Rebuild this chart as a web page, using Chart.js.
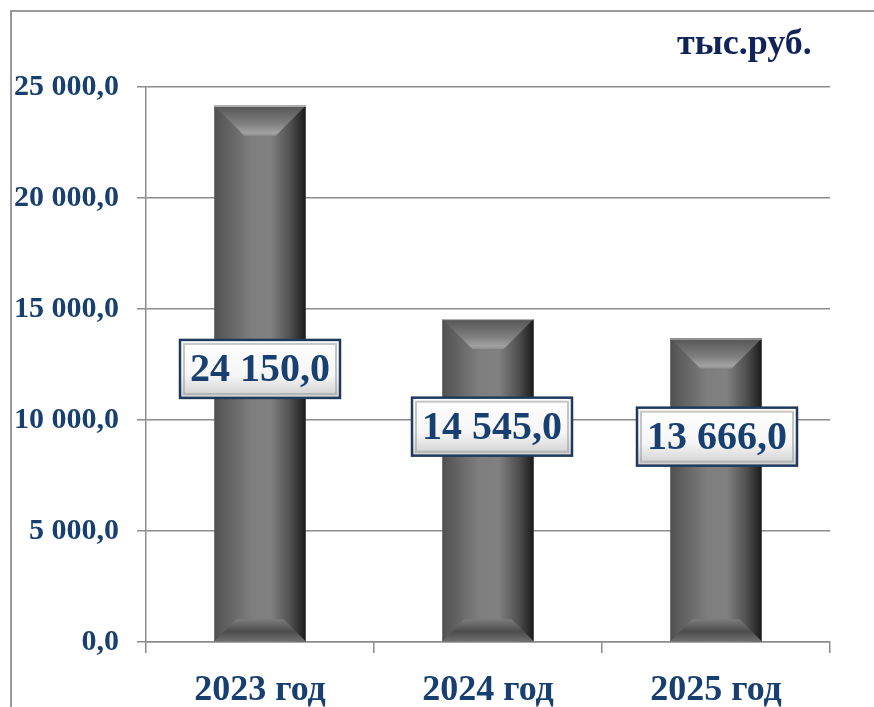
<!DOCTYPE html>
<html>
<head>
<meta charset="utf-8">
<script src="https://cdn.jsdelivr.net/npm/chart.js@4.4.1/dist/chart.umd.min.js"></script>
<style>
  html, body { margin: 0; padding: 0; background: #fff; }
  #wrap { position: relative; width: 874px; height: 707px; overflow: hidden; }
</style>
</head>
<body>
<div id="wrap"><canvas id="chart" width="874" height="707"></canvas></div>
<script>
const years = ['2023 год', '2024 год', '2025 год'];
const amounts = [24150.0, 14545.0, 13666.0];
const yTicks = [0, 5000, 10000, 15000, 20000, 25000];
const unitLabel = 'тыс.руб.';

// формат "24 150,0"
function fmt(v) {
    const parts = v.toFixed(1).split('.');
    return parts[0].replace(/\B(?=(\d{3})+(?!\d))/g, ' ') + ',' + parts[1];
}

const framePlugin = {
    id: 'frame',
    beforeDraw(chart) {
        const c = chart.ctx;
        c.save();
        c.strokeStyle = '#9a9a9a';
        c.lineWidth = 2;
        c.strokeRect(11, 11, 900, 800);
        c.restore();
    }
};

// объёмные столбики: градиент + фаски сверху и снизу
const bevelPlugin = {
    id: 'bevel',
    afterDatasetsDraw(chart) {
        const c = chart.ctx;
        chart.getDatasetMeta(0).data.forEach(bar => {
            const x0 = bar.x - bar.width / 2, x1 = bar.x + bar.width / 2;
            const top = bar.y, bot = bar.base;
            const dt = 30, db = 22;
            c.save();
            let g = c.createLinearGradient(x0, 0, x1, 0);
            g.addColorStop(0, '#505050');
            g.addColorStop(0.1, '#5c5c5c');
            g.addColorStop(0.4, '#7e7e7e');
            g.addColorStop(0.62, '#808080');
            g.addColorStop(0.84, '#4e4e4e');
            g.addColorStop(1, '#1a1a1a');
            c.fillStyle = g;
            c.fillRect(x0, top, x1 - x0, bot - top);

            // верхняя фаска
            g = c.createLinearGradient(0, top, 0, top + dt);
            g.addColorStop(0, '#555555');
            g.addColorStop(0.6, '#7f7f7f');
            g.addColorStop(0.9, '#a2a2a2');
            g.addColorStop(1, '#8e8e8e');
            c.beginPath();
            c.moveTo(x0, top); c.lineTo(x1, top);
            c.lineTo(x1 - dt, top + dt); c.lineTo(x0 + dt, top + dt);
            c.closePath();
            c.fillStyle = g;
            c.fill();

            // нижняя фаска
            g = c.createLinearGradient(0, bot - db, 0, bot);
            g.addColorStop(0, '#7c7c7c');
            g.addColorStop(0.55, '#4c4c4c');
            g.addColorStop(1, '#6e6e6e');
            c.beginPath();
            c.moveTo(x0, bot); c.lineTo(x1, bot);
            c.lineTo(x1 - db, bot - db); c.lineTo(x0 + db, bot - db);
            c.closePath();
            c.fillStyle = g;
            c.fill();

            c.strokeStyle = '#bdbdbd';
            c.lineWidth = 1;
            c.beginPath();
            c.moveTo(x0, top + 0.5); c.lineTo(x1, top + 0.5);
            c.stroke();
            c.restore();
        });
    }
};

const labelPlugin = {
    id: 'boxLabels',
    afterDatasetsDraw(chart, args, opts) {
        const c = chart.ctx;
        const ys = chart.scales.y;
        c.save();
        c.font = 'bold 40px "Liberation Serif", "Times New Roman", serif';
        c.textAlign = 'center';
        c.textBaseline = 'middle';
        chart.getDatasetMeta(0).data.forEach((bar, i) => {
            const text = fmt(amounts[i]);
            const tw = c.measureText(text).width;
            const w = tw + 20, h = 58;
            const cx = bar.x + opts.dx[i];
            const cy = ys.getPixelForValue(opts.at[i]);
            const x = cx - w / 2, y = cy - h / 2;
            const g = c.createLinearGradient(0, y, 0, y + h);
            g.addColorStop(0, '#ffffff');
            g.addColorStop(0.6, '#f6f6f6');
            g.addColorStop(1, '#cfcfcf');
            c.fillStyle = g;
            c.fillRect(x, y, w, h);
            // внутренняя тень
            c.strokeStyle = 'rgba(160,160,160,0.6)';
            c.lineWidth = 2;
            c.strokeRect(x + 4, y + 4, w - 8, h - 8);
            c.strokeStyle = '#203a5e';
            c.lineWidth = 2.5;
            c.strokeRect(x, y, w, h);
            c.fillStyle = '#173f6f';
            c.fillText(text, cx, cy + 2);
        });
        // единица измерения
        c.font = 'bold 36px "Liberation Serif", "Times New Roman", serif';
        c.fillStyle = '#10245a';
        c.textAlign = 'left';
        c.textBaseline = 'alphabetic';
        c.fillText(unitLabel, 677, 54);
        c.restore();
    }
};

new Chart(document.getElementById('chart'), {
    type: 'bar',
    data: {
        labels: years,
        datasets: [{
            data: amounts,
            backgroundColor: '#6e6e6e',
            borderWidth: 0,
            barPercentage: 0.4,
            categoryPercentage: 1.0
        }]
    },
    options: {
        responsive: false,
        animation: false,
        layout: { padding: { top: 87, right: 44, left: 0, bottom: 0 } },
        plugins: {
            legend: { display: false },
            tooltip: { enabled: false },
            boxLabels: { at: [12300, 9700, 9250], dx: [0, 4, 1] }
        },
        scales: {
            x: {
                offset: true,
                grid: {
                    offset: true,
                    drawOnChartArea: false,
                    drawTicks: true,
                    tickLength: 11,
                    color: '#8c8c8c',
                    lineWidth: 1.5
                },
                border: { display: true, color: '#8c8c8c', width: 1.5 },
                ticks: {
                    color: '#173f6f',
                    padding: 16,
                    font: { family: '"Liberation Serif", "Times New Roman", serif', size: 36, weight: 'bold' }
                },
                afterFit: s => { s.height = 65; }
            },
            y: {
                min: 0,
                max: 25000,
                afterBuildTicks: s => { s.ticks = yTicks.map(v => ({ value: v })); },
                grid: {
                    color: '#8c8c8c',
                    lineWidth: 1.5,
                    tickLength: 9
                },
                border: { display: true, color: '#8c8c8c', width: 1.5 },
                ticks: {
                    color: '#173f6f',
                    padding: 18,
                    font: { family: '"Liberation Serif", "Times New Roman", serif', size: 30, weight: 'bold' },
                    callback: v => fmt(v)
                },
                afterFit: s => { s.width = 146; }
            }
        }
    },
    plugins: [framePlugin, bevelPlugin, labelPlugin]
});
</script>
</body>
</html>
